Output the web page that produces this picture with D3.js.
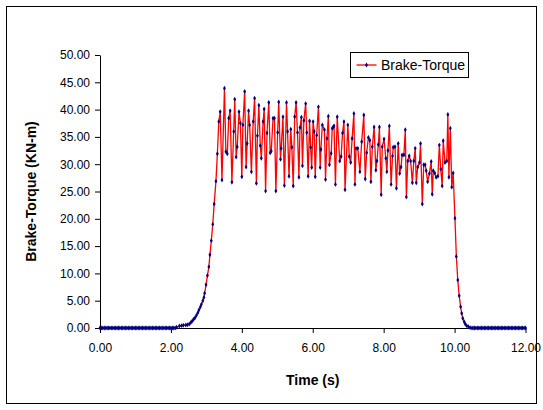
<!DOCTYPE html>
<html>
<head>
<meta charset="utf-8">
<script src="https://cdn.jsdelivr.net/npm/d3@7"></script>
<style>
  body { margin: 0; background: #fff; }
  svg { font-family: "Liberation Sans", Arial, sans-serif; }
</style>
</head>
<body>
<div id="chart"></div>
<script>
const idleStartTime = [
  0.00, 0.04, 0.08, 0.12, 0.16, 0.20, 0.24, 0.28, 0.32, 0.36, 0.40, 0.44, 0.48, 0.52, 0.56, 0.60, 0.64, 0.68,
  0.72, 0.76, 0.80, 0.84, 0.88, 0.92, 0.96, 1.00, 1.04, 1.08, 1.12, 1.16, 1.20, 1.24, 1.28, 1.32, 1.36, 1.40,
  1.44, 1.48, 1.52, 1.56, 1.60, 1.64, 1.68, 1.72, 1.76, 1.80, 1.84, 1.88, 1.92, 1.96, 2.00, 2.04, 2.08
];
const idleStartTorque = [
  0, 0, 0, 0, 0, 0, 0, 0, 0, 0, 0, 0, 0, 0, 0, 0, 0, 0,
  0, 0, 0, 0, 0, 0, 0, 0, 0, 0, 0, 0, 0, 0, 0, 0, 0, 0,
  0, 0, 0, 0, 0, 0, 0, 0, 0, 0, 0, 0, 0, 0, 0, 0, 0
];

const rampUpTime = [
  2.12, 2.16, 2.24, 2.30, 2.35, 2.42, 2.47, 2.52, 2.56, 2.60, 2.64, 2.68, 2.72, 2.76,
  2.79, 2.83, 2.86, 2.90, 2.93, 2.95, 2.99, 3.03, 3.07, 3.10, 3.14, 3.18, 3.22
];
const rampUpTorque = [
  0.00, 0.13, 0.37, 0.43, 0.49, 0.55, 0.61, 0.73, 0.98, 1.28, 1.59, 1.89, 2.32, 2.81,
  3.30, 3.85, 4.33, 5.00, 5.60, 6.35, 7.90, 9.60, 11.2, 13.4, 16.0, 19.0, 22.7
];

const brakeEarlyTime = [
  3.27, 3.31, 3.35, 3.39, 3.44, 3.51, 3.55, 3.59, 3.63, 3.67, 3.72, 3.77, 3.80, 3.84, 3.87,
  3.92, 3.96, 4.00, 4.03, 4.08, 4.12, 4.15, 4.19, 4.22, 4.27, 4.32, 4.36, 4.41, 4.44,
  4.48, 4.52, 4.55, 4.60, 4.63, 4.67, 4.71, 4.76, 4.80, 4.83, 4.88, 4.92, 4.96, 5.01,
  5.04, 5.09, 5.11, 5.16, 5.20, 5.26, 5.29, 5.33, 5.38, 5.41, 5.45, 5.49, 5.53, 5.57,
  5.61, 5.64, 5.68, 5.71, 5.75, 5.80, 5.83, 5.87, 5.91, 5.94, 5.97
];
const brakeEarlyTorque = [
  26.9, 31.9, 37.8, 39.6, 27.1, 43.9, 32.3, 31.9, 38.4, 39.8, 26.7, 36.0, 41.9, 31.3, 33.2,
  39.6, 37.5, 27.7, 37.2, 43.3, 29.5, 33.8, 39.8, 37.2, 28.6, 37.8, 42.1, 26.5, 35.2,
  40.8, 33.4, 31.1, 37.8, 40.1, 25.1, 35.7, 41.3, 32.1, 32.4, 38.4, 38.4, 25.1, 35.8,
  41.4, 30.9, 32.9, 38.7, 26.1, 41.3, 36.0, 27.8, 36.4, 33.1, 26.0, 38.7, 41.3, 35.8,
  27.6, 36.7, 38.6, 29.7, 38.0, 41.1, 35.8, 27.8, 37.9, 33.1, 29.4
];

const brakeLateTime = [
  6.01, 6.04, 6.07, 6.11, 6.16, 6.21, 6.23, 6.27, 6.33, 6.36, 6.40, 6.44, 6.47, 6.52, 6.55,
  6.58, 6.60, 6.64, 6.69, 6.76, 6.80, 6.84, 6.88, 6.91, 6.99, 7.03, 7.07, 7.11, 7.16, 7.19,
  7.22, 7.27, 7.33, 7.38, 7.44, 7.48, 7.52, 7.57, 7.61, 7.64, 7.68, 7.73, 7.78, 7.81, 7.85,
  7.88, 7.93, 7.96, 8.01, 8.06, 8.09, 8.12, 8.16, 8.21, 8.25, 8.27, 8.32, 8.36, 8.41, 8.45,
  8.49, 8.52, 8.57, 8.61, 8.64, 8.68, 8.72, 8.76, 8.81, 8.85, 8.89, 8.92, 8.96, 9.01, 9.04,
  9.09, 9.13, 9.17, 9.20, 9.24, 9.29, 9.34, 9.37, 9.40, 9.44, 9.48, 9.53, 9.57, 9.61, 9.65,
  9.68, 9.73, 9.78, 9.81, 9.84, 9.88, 9.92, 9.96
];
const brakeLateTorque = [
  37.8, 36.0, 27.7, 35.3, 40.5, 29.4, 32.7, 37.2, 36.3, 27.2, 34.7, 38.8, 29.9, 32.0, 36.6,
  36.8, 37.0, 26.3, 38.7, 30.6, 31.4, 35.7, 37.8, 25.3, 37.2, 31.4, 30.3, 34.7, 39.3, 26.3,
  32.9, 32.9, 28.6, 34.1, 39.0, 27.3, 32.1, 34.9, 34.4, 26.8, 33.2, 36.8, 28.9, 30.6, 33.6,
  36.8, 24.4, 33.2, 34.6, 31.1, 28.6, 32.5, 37.0, 26.3, 31.5, 33.1, 33.2, 25.6, 33.8, 28.3,
  29.5, 31.7, 31.7, 36.3, 24.0, 30.6, 31.5, 30.6, 26.6, 30.6, 32.9, 26.6, 29.5, 30.3, 33.8,
  22.7, 29.9, 29.9, 28.8, 26.8, 28.3, 30.5, 24.5, 28.8, 28.4, 27.6, 27.8, 33.5, 29.1, 26.0,
  34.3, 30.3, 30.6, 39.1, 27.6, 36.6, 25.8, 28.4
];

const rampDownTime = [10.01, 10.05, 10.09, 10.13, 10.17, 10.20, 10.23, 10.27, 10.30, 10.34, 10.39, 10.44, 10.49];
const rampDownTorque = [20.1, 13.1, 8.8, 5.9, 3.9, 2.7, 1.8, 1.15, 0.73, 0.43, 0.24, 0.06, 0];

const idleEndTime = [
  10.52, 10.56, 10.60, 10.64, 10.68, 10.72, 10.76, 10.80, 10.84, 10.88, 10.92, 10.96, 11.00,
  11.04, 11.08, 11.12, 11.16, 11.20, 11.24, 11.28, 11.32, 11.36, 11.40, 11.44, 11.48, 11.52,
  11.56, 11.60, 11.64, 11.68, 11.72, 11.76, 11.80, 11.84, 11.88, 11.92, 11.96, 12.00
];
const idleEndTorque = [
  0, 0, 0, 0, 0, 0, 0, 0, 0, 0, 0, 0, 0,
  0, 0, 0, 0, 0, 0, 0, 0, 0, 0, 0, 0, 0,
  0, 0, 0, 0, 0, 0, 0, 0, 0, 0, 0, 0
];

const xTicks = [0, 2, 4, 6, 8, 10, 12];
const yTicks = [0, 5, 10, 15, 20, 25, 30, 35, 40, 45, 50];
const seriesName = "Brake-Torque";

const width = 543;
const height = 410;
const margin = { top: 55, right: 17.5, bottom: 82, left: 100 };

const segments = [
  [idleStartTime, idleStartTorque],
  [rampUpTime, rampUpTorque],
  [brakeEarlyTime, brakeEarlyTorque],
  [brakeLateTime, brakeLateTorque],
  [rampDownTime, rampDownTorque],
  [idleEndTime, idleEndTorque]
];
const data = segments.flatMap(([ts, vs]) => ts.map((t, i) => ({ t, v: vs[i] })));

const svg = d3
  .select("#chart")
  .append("svg")
  .attr("width", width)
  .attr("height", height);

svg
  .append("rect")
  .attr("x", 6.5)
  .attr("y", 6.5)
  .attr("width", 530)
  .attr("height", 397)
  .attr("fill", "#fff")
  .attr("stroke", "#000");

const x = d3
  .scaleLinear()
  .domain([0, 12])
  .range([margin.left, width - margin.right]);

const y = d3
  .scaleLinear()
  .domain([0, 50])
  .range([height - margin.bottom, margin.top]);

const fmt = d3.format(".2f");

const yAxis = svg
  .append("g")
  .attr("transform", `translate(${margin.left},0)`)
  .call(d3.axisLeft(y).tickValues(yTicks).tickFormat(fmt).tickSize(5).tickSizeOuter(0).tickPadding(5));

const xAxis = svg
  .append("g")
  .attr("transform", `translate(0,${height - margin.bottom})`)
  .call(d3.axisBottom(x).tickValues(xTicks).tickFormat(fmt).tickSize(5).tickSizeOuter(0).tickPadding(10));

[xAxis, yAxis].forEach((g) => {
  g.selectAll("text").attr("font-size", 12).attr("fill", "#000").attr("font-family", null);
  g.selectAll("path, line").attr("stroke", "#000");
});

const line = d3
  .line()
  .x((d) => x(d.t))
  .y((d) => y(d.v));

svg
  .append("path")
  .datum(data)
  .attr("fill", "none")
  .attr("stroke", "#ff0000")
  .attr("stroke-width", 1.3)
  .attr("d", line);

const marker = d3.symbol().type(d3.symbolDiamond).size(7);

svg
  .append("g")
  .selectAll("path")
  .data(data)
  .join("path")
  .attr("transform", (d) => `translate(${x(d.t)},${y(d.v)})`)
  .attr("d", marker)
  .attr("fill", "#000080");

svg
  .append("text")
  .attr("transform", `translate(36,${(margin.top + height - margin.bottom) / 2}) rotate(-90)`)
  .attr("text-anchor", "middle")
  .attr("font-size", 14)
  .attr("font-weight", "bold")
  .text("Brake-Torque (KN-m)");

svg
  .append("text")
  .attr("x", (margin.left + width - margin.right) / 2)
  .attr("y", 385)
  .attr("text-anchor", "middle")
  .attr("font-size", 14)
  .attr("font-weight", "bold")
  .text("Time (s)");

const legend = svg.append("g").attr("transform", "translate(350.5,52.5)");

legend
  .append("rect")
  .attr("width", 118)
  .attr("height", 25)
  .attr("fill", "#fff")
  .attr("stroke", "#000");

legend
  .append("line")
  .attr("x1", 6)
  .attr("x2", 26)
  .attr("y1", 12.5)
  .attr("y2", 12.5)
  .attr("stroke", "#ff0000")
  .attr("stroke-width", 1.3);

legend
  .append("path")
  .attr("transform", "translate(16,12.5)")
  .attr("d", marker)
  .attr("fill", "#000080");

legend
  .append("text")
  .attr("x", 30.5)
  .attr("y", 17.5)
  .attr("font-size", 14)
  .text(seriesName);
</script>
</body>
</html>
